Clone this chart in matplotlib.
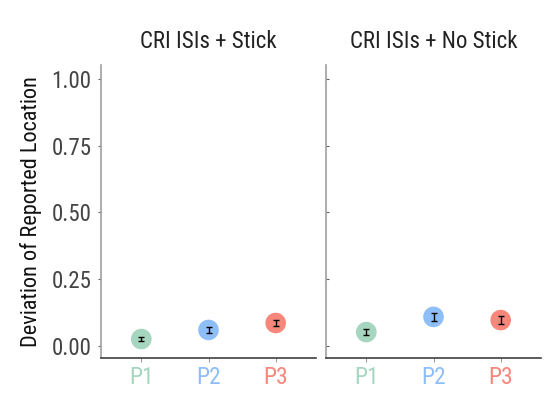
import numpy as np
import matplotlib
matplotlib.use("Agg")
import matplotlib.pyplot as plt

plt.rcParams['font.family'] = ['Roboto Condensed', 'DejaVu Sans']

panels = ["CRI ISIs + Stick", "CRI ISIs + No Stick"]
participants = ["P1", "P2", "P3"]
colors = ["#a6d6bf", "#8ebef8", "#f8877b"]

stick_means = [0.026, 0.060, 0.086]
stick_err = [0.007, 0.010, 0.012]
nostick_means = [0.052, 0.109, 0.097]
nostick_err = [0.010, 0.015, 0.015]

means = [stick_means, nostick_means]
errs = [stick_err, nostick_err]

fig = plt.figure(figsize=(5.59, 3.98), dpi=100)
ax1 = fig.add_axes([101 / 559, 40 / 398, 215 / 559, 293 / 398])
ax2 = fig.add_axes([326 / 559, 40 / 398, 215 / 559, 293 / 398])

x = np.arange(1, 4)
for i, ax in enumerate([ax1, ax2]):
    for j in range(3):
        ax.scatter(x[j], means[i][j], s=220, color=colors[j], zorder=2,
                   edgecolors='none')
        ax.errorbar(x[j], means[i][j], yerr=errs[i][j], fmt='none',
                    ecolor='black', elinewidth=1, capsize=2, capthick=1, zorder=3)
    ax.set_xlim(0.4, 3.6)
    ax.set_ylim(-0.045, 1.052)
    ax.set_xticks(x)
    ax.set_xticklabels(participants, fontsize=17)
    ax.set_yticks([0, 0.25, 0.5, 0.75, 1.0])
    ax.spines['top'].set_visible(False)
    ax.spines['right'].set_visible(False)
    ax.spines['left'].set_color('#a0a0a0')
    ax.spines['left'].set_linewidth(1.2)
    ax.spines['bottom'].set_color('#404040')
    ax.spines['bottom'].set_linewidth(1.2)
    ax.tick_params(axis='x', color='#a0a0a0', length=3, pad=3)
    ax.tick_params(axis='y', color='#606060', length=2, pad=5)
    for lab, c in zip(ax.get_xticklabels(), colors):
        lab.set_color(c)
    ax.set_title(panels[i], fontsize=16.5, color='#222222', pad=12)

ax1.set_yticklabels(["0.00", "0.25", "0.50", "0.75", "1.00"], fontsize=16.5)
for lab in ax1.get_yticklabels():
    lab.set_color('#444444')
ax1.set_ylabel("Deviation of Reported Location", fontsize=16, color='#111111',
               labelpad=7)
ax2.tick_params(axis='y', direction='in', labelleft=False)

fig.savefig("out.png", dpi=100)
